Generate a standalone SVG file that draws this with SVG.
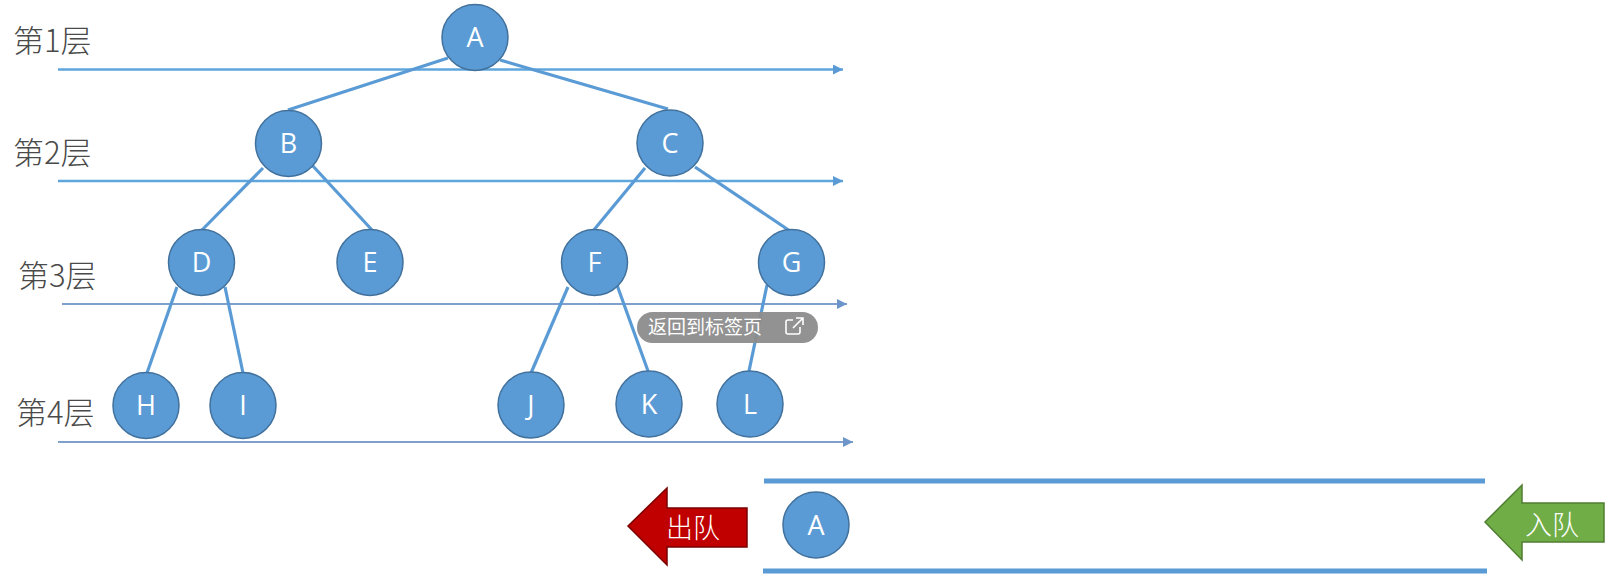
<svg xmlns="http://www.w3.org/2000/svg" width="1612" height="580" viewBox="0 0 1612 580">
<defs>
<marker id="arr" markerWidth="12" markerHeight="12" refX="10" refY="5" orient="auto" markerUnits="userSpaceOnUse">
<path d="M0,0 L10,5 L0,10 Z" fill="#5b9bd5"/>
</marker>
<marker id="arr2" markerWidth="12" markerHeight="12" refX="10" refY="5" orient="auto" markerUnits="userSpaceOnUse">
<path d="M0,0 L10,5 L0,10 Z" fill="#6d95c9"/>
</marker>
</defs>
<style>
.lvl{fill:none;stroke:#5ea6dc;stroke-width:2.5}
.lvl2{fill:none;stroke:#7f9fcc;stroke-width:2}
.edge{fill:none;stroke:#5b9bd5;stroke-width:3.2}
.node circle{fill:#5b9bd5;stroke:#41719c;stroke-width:1.5}
.node text{font-family:"Open Sans","Noto Sans",sans-serif;font-size:27px;fill:#ffffff;text-anchor:middle}
.lab{font-family:"Noto Sans CJK SC",sans-serif;font-size:31px;font-weight:300;fill:#4a4a4a}
.q{stroke:#5b9bd5;stroke-width:5}
.arrtxt{font-family:"Noto Sans CJK SC",sans-serif;font-size:27px;font-weight:300;fill:#ffffff}
</style>
<rect width="1612" height="580" fill="#ffffff"/>
<g id="labels">
<text class="lab" x="13" y="52">第1层</text>
<text class="lab" x="13" y="164">第2层</text>
<text class="lab" x="18" y="287">第3层</text>
<text class="lab" x="16" y="424">第4层</text>
</g>
<g id="levels">
<line class="lvl" x1="58" y1="69.5" x2="843" y2="69.5" marker-end="url(#arr)"/>
<line class="lvl" x1="58" y1="181" x2="843" y2="181" marker-end="url(#arr)"/>
<line class="lvl2" x1="62" y1="304" x2="847" y2="304" marker-end="url(#arr2)"/>
<line class="lvl2" x1="58" y1="442" x2="853" y2="442" marker-end="url(#arr2)"/>
</g>
<g id="connectors">
<line class="edge" x1="448" y1="58" x2="288" y2="110"/>
<line class="edge" x1="500" y1="60" x2="668" y2="109"/>
<line class="edge" x1="263" y1="168" x2="202" y2="230"/>
<line class="edge" x1="312" y1="165" x2="372" y2="230"/>
<line class="edge" x1="645" y1="168" x2="593" y2="231"/>
<line class="edge" x1="695" y1="167" x2="790" y2="231"/>
<line class="edge" x1="177" y1="287" x2="147" y2="373"/>
<line class="edge" x1="225" y1="287" x2="243" y2="373"/>
<line class="edge" x1="568" y1="287" x2="531" y2="373"/>
<line class="edge" x1="617" y1="285" x2="648" y2="371"/>
<line class="edge" x1="767" y1="285" x2="749" y2="371"/>
</g>
<g id="node-A" class="node"><circle cx="475" cy="37.5" r="33"/><text x="475" y="47">A</text></g>
<g id="node-B" class="node"><circle cx="288.5" cy="143.5" r="33"/><text x="288.5" y="153">B</text></g>
<g id="node-C" class="node"><circle cx="670" cy="143" r="33"/><text x="670" y="152.5">C</text></g>
<g id="node-D" class="node"><circle cx="201.5" cy="262.5" r="33"/><text x="201.5" y="272">D</text></g>
<g id="node-E" class="node"><circle cx="370" cy="262.5" r="33"/><text x="370" y="272">E</text></g>
<g id="node-F" class="node"><circle cx="594.5" cy="262.5" r="33"/><text x="594.5" y="272">F</text></g>
<g id="node-G" class="node"><circle cx="791.5" cy="262.5" r="33"/><text x="791.5" y="272">G</text></g>
<g id="node-H" class="node"><circle cx="146" cy="405.5" r="33"/><text x="146" y="415">H</text></g>
<g id="node-I" class="node"><circle cx="243" cy="405.5" r="33"/><text x="243" y="415">I</text></g>
<g id="node-J" class="node"><circle cx="531" cy="405" r="33"/><text x="531" y="414.5">J</text></g>
<g id="node-K" class="node"><circle cx="649" cy="404" r="33"/><text x="649" y="413.5">K</text></g>
<g id="node-L" class="node"><circle cx="750" cy="404" r="33"/><text x="750" y="413.5">L</text></g>
<g id="tooltip">
<rect x="637" y="312" width="181" height="31" rx="15.5" fill="#8c8c8c" fill-opacity="0.95"/>
<text x="648" y="334" font-family="Noto Sans CJK SC, sans-serif" font-size="19" fill="#ffffff">返回到标签页</text>
<path d="M793,320 H788 a2,2 0 0 0 -2,2 V332 a2,2 0 0 0 2,2 H798 a2,2 0 0 0 2,-2 V327 M796,318 H803 V325 M803,318 L793,328" fill="none" stroke="#ffffff" stroke-width="1.6"/>
</g>
<g id="queue">
<line class="q" x1="764" y1="481" x2="1485" y2="481"/>
<line class="q" x1="763" y1="571" x2="1487" y2="571"/>
</g>
<g id="node-QA" class="node"><circle cx="816" cy="525" r="33"/><text x="816" y="534.5">A</text></g>
<g id="dequeue">
<polygon points="628,526 667,488 667,508 747,508 747,547 667,547 667,565" fill="#c00000" stroke="#7a0000" stroke-width="1.5"/>
<text class="arrtxt" x="666" y="538">出队</text>
</g>
<g id="enqueue">
<polygon points="1485,522 1522,485 1522,503 1604,503 1604,542 1522,542 1522,560" fill="#70ad47" stroke="#507e32" stroke-width="1.5"/>
<text class="arrtxt" x="1525" y="535">入队</text>
</g>
</svg>
